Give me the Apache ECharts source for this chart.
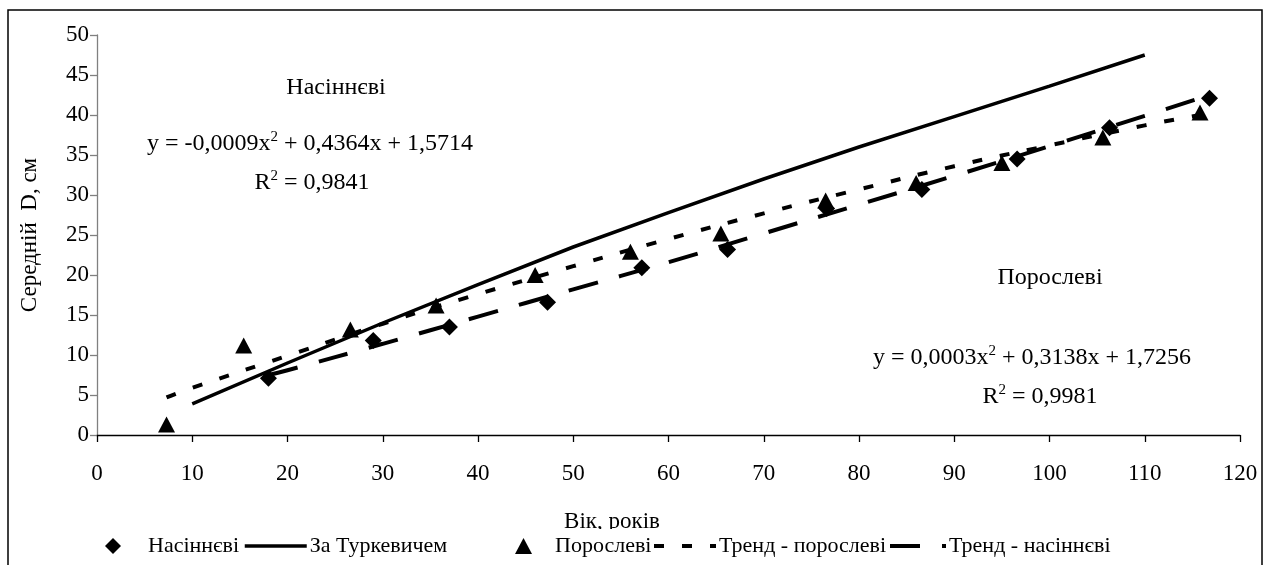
<!DOCTYPE html>
<html>
<head>
<meta charset="utf-8">
<script src="https://cdn.jsdelivr.net/npm/echarts@6/dist/echarts.min.js"></script>
<style>
html,body{margin:0;padding:0;background:#fff;}
#chart{width:1266px;height:565px;}
</style>
</head>
<body>
<div id="chart"></div>
<script>
// ---- data ----
const seedAge = [18, 29, 37, 47.3, 57.2, 66.2, 76.6, 86.6, 96.6, 106.3, 116.8];
const seedD   = [7.1, 11.8, 13.5, 16.6, 20.9, 23.2, 28.3, 30.7, 34.5, 38.4, 42.1];

const coppAge = [7.3, 15.4, 26.6, 35.6, 46, 56, 65.5, 76.5, 86, 95, 105.6, 115.8];
const coppD   = [1.3, 11.2, 13.2, 16.2, 20, 22.9, 25.2, 29.3, 31.5, 34, 37.2, 40.3];

const turkAge = [10, 20, 30, 40, 50, 60, 70, 80, 90, 100, 110];
const turkD   = [3.9, 9.0, 14.0, 18.8, 23.5, 27.8, 32.0, 36.0, 39.8, 43.6, 47.5];

const trendCoppAge = [7.3, 10, 20, 30, 40, 50, 60, 70, 80, 90, 100, 110, 115.8];
const trendCoppD   = [4.7, 5.9, 9.9, 13.9, 17.6, 21.1, 24.5, 27.7, 30.7, 33.6, 36.2, 38.7, 40.0];

const trendSeedAge = [18, 20, 30, 40, 50, 60, 70, 80, 90, 100, 110, 116.8];
const trendSeedD   = [7.5, 8.1, 11.4, 14.8, 18.2, 21.6, 25.2, 28.8, 32.4, 36.1, 39.9, 42.5];

const xTicks = [0, 10, 20, 30, 40, 50, 60, 70, 80, 90, 100, 110, 120];
const yTicks = [0, 5, 10, 15, 20, 25, 30, 35, 40, 45, 50];

const names = ['Насіннєві', 'За Туркевичем', 'Порослеві', 'Тренд - порослеві', 'Тренд - насіннєві'];

// ---- chart ----
const FONT = '"Liberation Serif", "Times New Roman", serif';
const zip = (a, b) => a.map((v, i) => [v, b[i]]);

const chart = echarts.init(document.getElementById('chart'), null, {renderer: 'canvas'});

function legendAt(name, left, itemWidth, textPad, lineStyle) {
  const l = {
    data: [name], left: left, top: 529,
    itemWidth: itemWidth, itemHeight: 16, itemGap: 0, padding: [6, 0, 10, 0],
    textStyle: {fontFamily: FONT, fontSize: 22, color: '#000', padding: [0, 0, 0, textPad]},
    backgroundColor: '#fff', selectedMode: false, z: 10
  };
  if (lineStyle) {
    l.itemStyle = {opacity: 0};
    l.lineStyle = lineStyle;
  }
  return l;
}

const sup = {fontFamily: FONT, fontSize: 15, color: '#000', padding: [0, 0, 13, 0]};
const txt = {fontFamily: FONT, fontSize: 24, color: '#000'};

const option = {
  backgroundColor: '#fff',
  animation: false,
  grid: {left: 97, right: 26, top: 35, bottom: 130, containLabel: false},
  xAxis: {
    type: 'value', min: 0, max: 120, interval: 10,
    axisLine: {lineStyle: {color: '#000', width: 1.3}},
    axisTick: {show: true, inside: false, length: 7, lineStyle: {color: '#000', width: 1.3}},
    axisLabel: {fontFamily: FONT, fontSize: 23, color: '#000', margin: 27,
      formatter: v => xTicks.includes(v) ? String(v) : ''},
    splitLine: {show: false}
  },
  yAxis: {
    type: 'value', min: 0, max: 50, interval: 5,
    name: 'Середній  D, см', nameLocation: 'middle', nameGap: 56, nameRotate: 90,
    nameTextStyle: {fontFamily: FONT, fontSize: 23, color: '#000'},
    axisLine: {show: true, lineStyle: {color: '#808080', width: 1.3}},
    axisTick: {show: true, inside: false, length: 7, lineStyle: {color: '#808080', width: 1.3}},
    axisLabel: {fontFamily: FONT, fontSize: 23, color: '#000', margin: 8,
      formatter: v => yTicks.includes(v) ? String(v) : ''},
    splitLine: {show: false}
  },
  legend: [
    legendAt(names[0], 105, 16, 22, null),
    legendAt(names[1], 243, 62, -2, {width: 3.5, type: 'solid', color: '#000'}),
    legendAt(names[2], 515, 17, 18, null),
    legendAt(names[3], 652, 62, -2, {width: 4, type: [10, 18], color: '#000'}),
    legendAt(names[4], 888, 56, -2, {width: 4, type: [30, 22], color: '#000'})
  ],
  graphic: [
    {type: 'rect', silent: true, z: 100,
      shape: {x: 8, y: 10, width: 1254, height: 700},
      style: {fill: 'none', stroke: '#000', lineWidth: 1.5}},
    {type: 'text', silent: true, z: 5, x: 612, y: 522,
      style: {text: 'Вік, років', font: '23px ' + FONT, fill: '#000', align: 'center', verticalAlign: 'middle'}},
    {type: 'text', silent: true, z: 5, x: 336, y: 88,
      style: {text: 'Насіннєві', font: '24px ' + FONT, fill: '#000', align: 'center', verticalAlign: 'middle'}},
    {type: 'text', silent: true, z: 5, x: 310, y: 144,
      style: {text: '{a|y = -0,0009x}{s|2}{a| + 0,4364x + 1,5714}', rich: {a: txt, s: sup},
        align: 'center', verticalAlign: 'middle'}},
    {type: 'text', silent: true, z: 5, x: 312, y: 183,
      style: {text: '{a|R}{s|2}{a| = 0,9841}', rich: {a: txt, s: sup},
        align: 'center', verticalAlign: 'middle'}},
    {type: 'text', silent: true, z: 5, x: 1050, y: 278,
      style: {text: 'Порослеві', font: '24px ' + FONT, fill: '#000', align: 'center', verticalAlign: 'middle'}},
    {type: 'text', silent: true, z: 5, x: 1032, y: 358,
      style: {text: '{a|y = 0,0003x}{s|2}{a| + 0,3138x + 1,7256}', rich: {a: txt, s: sup},
        align: 'center', verticalAlign: 'middle'}},
    {type: 'text', silent: true, z: 5, x: 1040, y: 397,
      style: {text: '{a|R}{s|2}{a| = 0,9981}', rich: {a: txt, s: sup},
        align: 'center', verticalAlign: 'middle'}}
  ],
  series: [
    {name: names[0], type: 'scatter', data: zip(seedAge, seedD),
      symbol: 'diamond', symbolSize: [17, 17], itemStyle: {color: '#000', opacity: 1}, z: 5},
    {name: names[1], type: 'line', data: zip(turkAge, turkD),
      symbol: 'none', showSymbol: false, lineStyle: {color: '#000', width: 3.5, type: 'solid'},
      itemStyle: {color: '#000'}, z: 3},
    {name: names[2], type: 'scatter', data: zip(coppAge, coppD),
      symbol: 'triangle', symbolSize: [17, 16], itemStyle: {color: '#000', opacity: 1}, z: 5},
    {name: names[3], type: 'line', data: zip(trendCoppAge, trendCoppD), smooth: true,
      symbol: 'none', showSymbol: false, lineStyle: {color: '#000', width: 4, type: [10, 18]},
      itemStyle: {color: '#000'}, z: 4},
    {name: names[4], type: 'line', data: zip(trendSeedAge, trendSeedD), smooth: true,
      symbol: 'none', showSymbol: false, lineStyle: {color: '#000', width: 4, type: [30, 22]},
      itemStyle: {color: '#000'}, z: 4}
  ]
};
chart.setOption(option);
</script>
</body>
</html>
